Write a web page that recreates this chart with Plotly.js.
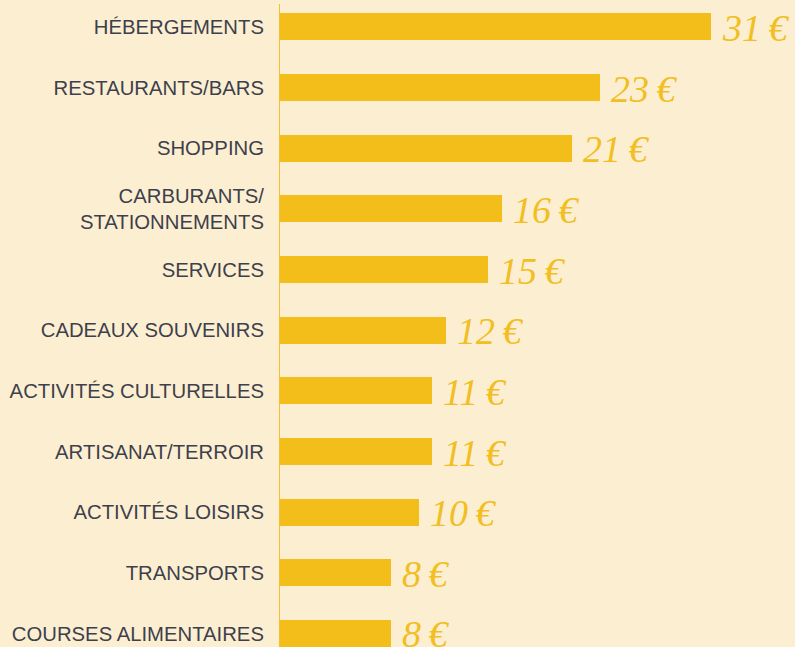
<!DOCTYPE html>
<html>
<head>
<meta charset="utf-8">
<script src="https://cdn.plot.ly/plotly-3.0.1.min.js"></script>
<style>
html,body{margin:0;padding:0;background:#FCEFD1;}
#chart{width:795px;height:647px;}
</style>
</head>
<body>
<div id="chart"></div>
<script>
var categories = [
  "HÉBERGEMENTS",
  "RESTAURANTS/BARS",
  "SHOPPING",
  "CARBURANTS/<br>STATIONNEMENTS",
  "SERVICES",
  "CADEAUX SOUVENIRS",
  "ACTIVITÉS CULTURELLES",
  "ARTISANAT/TERROIR",
  "ACTIVITÉS LOISIRS",
  "TRANSPORTS",
  "COURSES ALIMENTAIRES"
];
var values = [31, 23, 21, 16, 15, 12, 11, 11, 10, 8, 8];
var valueLabels = values.map(function(v){ return v + "\u2009€"; });

var barColor = "#F4BE1A";
var bg = "#FCEFD1";

var trace = {
  type: "bar",
  orientation: "h",
  x: values,
  y: categories,
  marker: {color: barColor},
  width: 0.445,
  hoverinfo: "none"
};

var annotations = values.map(function(v, i){
  return {
    x: v, y: categories[i], xref: "x", yref: "y",
    text: valueLabels[i], showarrow: false,
    xanchor: "left", yanchor: "middle", xshift: 9, yshift: -1,
    font: {family: "Liberation Serif, serif", size: 38, color: "#F2BE22", style: "italic"}
  };
});

var layout = {
  width: 795, height: 647,
  paper_bgcolor: bg, plot_bgcolor: bg,
  margin: {l: 279, r: 0, t: 0, b: 0, pad: 0},
  showlegend: false,
  bargap: 0,
  xaxis: {
    range: [0, 36.99], visible: false, fixedrange: true
  },
  yaxis: {
    type: "category",
    range: [10.223, -0.445],
    showgrid: false, zeroline: false, showline: false,
    ticks: "outside", ticklen: 10, tickcolor: "rgba(0,0,0,0)",
    tickfont: {family: "Liberation Sans, Arial, sans-serif", size: 20.3, color: "#3E3F4C"},
    automargin: false, fixedrange: true
  },
  shapes: [{
    type: "line", xref: "x", yref: "paper",
    x0: 0, x1: 0, y0: 0, y1: 1 - 4/647,
    line: {color: "#F2C035", width: 2}
  }],
  annotations: annotations
};

Plotly.newPlot("chart", [trace], layout, {displayModeBar: false, staticPlot: true});
</script>
</body>
</html>
